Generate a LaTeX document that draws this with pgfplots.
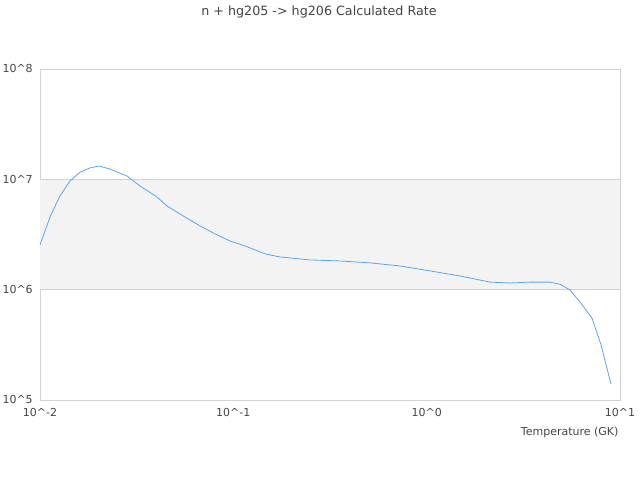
\documentclass[border=0pt]{standalone}
\usepackage{pgfplots}
\pgfplotsset{compat=1.18}
\usepackage{fontspec}
\setmainfont{DejaVu Sans}
\definecolor{axisgray}{RGB}{210,210,210}
\definecolor{bandgray}{RGB}{243,243,243}
\definecolor{txtgray}{RGB}{68,68,68}
\definecolor{rateblue}{RGB}{90,165,240}
\begin{document}
\begin{tikzpicture}
\useasboundingbox (0,0) rectangle (640bp,480bp);
\node[txtgray, font=\fontsize{12.7bp}{15bp}\selectfont] at (319bp,468bp) {n + hg205 -> hg206 Calculated Rate};
\begin{axis}[
    at={(40bp,80bp)}, anchor=south west,
    scale only axis, width=580bp, height=331bp,
    xmode=log, ymode=log,
    xmin=0.01, xmax=10, ymin=1e5, ymax=1e8,
    xtick={0.01,0.1,1,10},
    xticklabels={10\textasciicircum-2,10\textasciicircum-1,10\textasciicircum0,10\textasciicircum1},
    ytick={1e5,1e6,1e7,1e8},
    yticklabels={10\textasciicircum5,10\textasciicircum6,10\textasciicircum7,10\textasciicircum8},
    xminorticks=false, yminorticks=false,
    major tick length=0pt, minor tick length=0pt,
    axis line style={axisgray},
    tick label style={txtgray, font=\fontsize{11bp}{13bp}\selectfont},
    xticklabel style={anchor=base, yshift=-17bp},
    yticklabel style={anchor=west, xshift=-41bp},
    xlabel={Temperature (GK)},
    xlabel style={txtgray, font=\fontsize{11bp}{13bp}\selectfont, at={(axis description cs:1,0)}, anchor=base east, yshift=-36bp, xshift=2bp},
]
\fill[bandgray] (axis cs:0.01,1e6) rectangle (axis cs:10,1e7);
\draw[axisgray] (axis cs:0.01,1e6) -- (axis cs:10,1e6);
\draw[axisgray] (axis cs:0.01,1e7) -- (axis cs:10,1e7);
\addplot[rateblue, line width=0.8bp, mark=none] coordinates {
(0.01,2.54e6)
(0.01127,4.56e6)
(0.01268,7.06e6)
(0.01429,9.66e6)
(0.0161,1.16e7)
(0.01815,1.27e7)
(0.0202,1.32e7)
(0.023,1.24e7)
(0.0282,1.07e7)
(0.0329,8.71e6)
(0.0403,6.92e6)
(0.0454,5.73e6)
(0.0562,4.56e6)
(0.0673,3.78e6)
(0.0804,3.20e6)
(0.0962,2.76e6)
(0.1149,2.49e6)
(0.146,2.11e6)
(0.174,1.98e6)
(0.249,1.86e6)
(0.356,1.82e6)
(0.509,1.75e6)
(0.728,1.64e6)
(1.04,1.48e6)
(1.49,1.33e6)
(2.13,1.17e6)
(2.70,1.15e6)
(3.42,1.17e6)
(4.34,1.17e6)
(4.90,1.12e6)
(5.51,9.93e5)
(6.21,7.73e5)
(7.16,5.53e5)
(7.98,3.15e5)
(8.98,1.40e5)
};
\end{axis}
\end{tikzpicture}
\end{document}
